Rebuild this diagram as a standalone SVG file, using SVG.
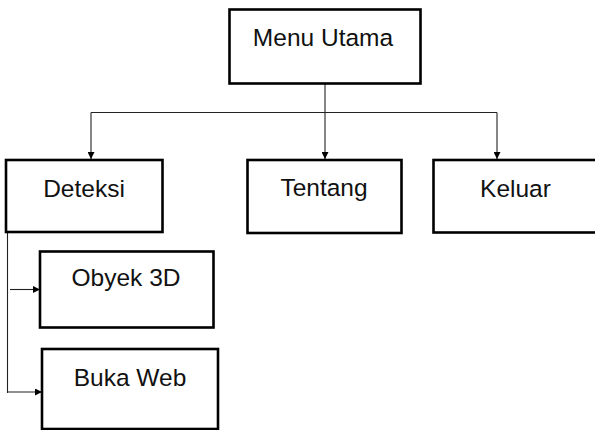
<svg xmlns="http://www.w3.org/2000/svg" width="595" height="430" viewBox="0 0 595 430">
  <style>
    .box { fill: #ffffff; stroke: #000000; stroke-width: 2.6; }
    .lbl { font-family: "Liberation Sans", Arial, sans-serif; font-size: 24.5px; fill: #111111; text-anchor: middle; }
    .conn { fill: none; stroke: #222222; stroke-width: 1.1; }
  </style>
  <defs>
    <marker id="arrow" viewBox="0 0 10 10" refX="10" refY="5" markerWidth="8" markerHeight="7" markerUnits="userSpaceOnUse" orient="auto">
      <path d="M0,0 L10,5 L0,10 z" fill="#000000"/>
    </marker>
  </defs>
  <rect width="595" height="430" fill="#ffffff"/>

  <g id="connectors">
    <line class="conn" x1="325" y1="83" x2="325" y2="159" marker-end="url(#arrow)"/>
    <line class="conn" x1="91" y1="112.5" x2="497" y2="112.5"/>
    <line class="conn" x1="91" y1="112.5" x2="91" y2="159" marker-end="url(#arrow)"/>
    <line class="conn" x1="497" y1="112.5" x2="497" y2="159" marker-end="url(#arrow)"/>
    <line class="conn" x1="7.5" y1="232" x2="7.5" y2="393"/>
    <line class="conn" x1="10" y1="289.5" x2="40" y2="289.5" marker-end="url(#arrow)"/>
    <line class="conn" x1="7.5" y1="392" x2="42" y2="392" marker-end="url(#arrow)"/>
  </g>

  <g id="menu-utama">
    <rect class="box" x="229.5" y="9.5" width="191" height="74"/>
    <text class="lbl" x="323" y="46">Menu Utama</text>
  </g>
  <g id="deteksi">
    <rect class="box" x="6" y="160" width="156.5" height="72"/>
    <text class="lbl" x="84" y="197">Deteksi</text>
  </g>
  <g id="tentang">
    <rect class="box" x="247.5" y="160" width="154" height="73"/>
    <text class="lbl" x="324" y="196">Tentang</text>
  </g>
  <g id="keluar">
    <rect class="box" x="433.5" y="160" width="170" height="72.5"/>
    <text class="lbl" x="515.5" y="197">Keluar</text>
  </g>
  <g id="obyek-3d">
    <rect class="box" x="40" y="251.5" width="173.5" height="76"/>
    <text class="lbl" x="126" y="286">Obyek 3D</text>
  </g>
  <g id="buka-web">
    <rect class="box" x="42" y="349" width="176" height="80"/>
    <text class="lbl" x="130" y="386">Buka Web</text>
  </g>
</svg>
